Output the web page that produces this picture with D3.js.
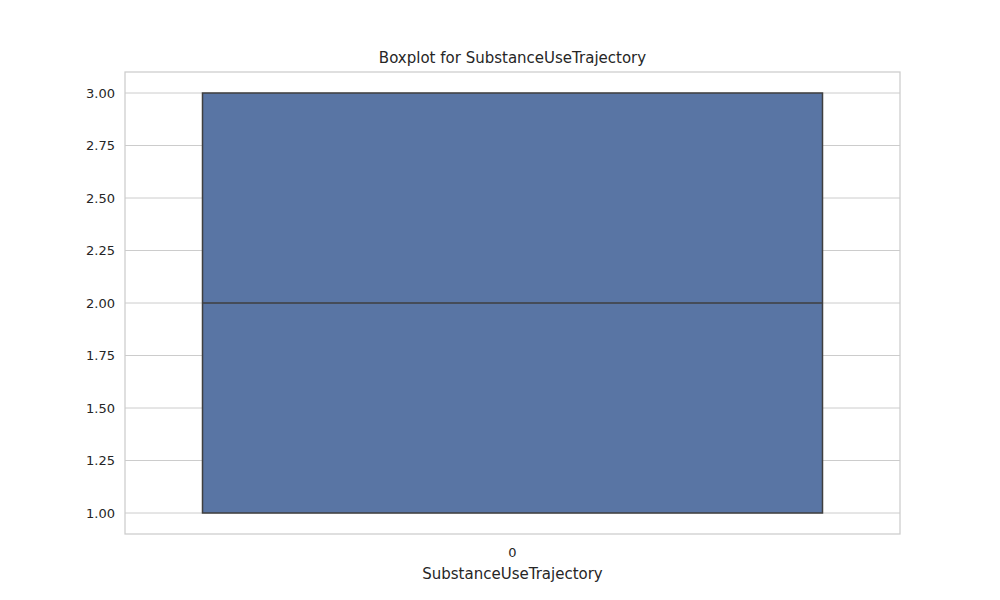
<!DOCTYPE html>
<html>
<head>
<meta charset="utf-8">
<script src="https://cdn.jsdelivr.net/npm/d3@7"></script>
<style>
  body { margin: 0; background: #fff; }
  text { font-family: "DejaVu Sans", sans-serif; fill: #262626; }
</style>
</head>
<body>
<div id="chart"></div>
<script>
// Data
const categories = ["0"];
const q1Values = [1.0];
const medianValues = [2.0];
const q3Values = [3.0];
const whiskerLow = [1.0];
const whiskerHigh = [3.0];
const yTicks = [1.0, 1.25, 1.5, 1.75, 2.0, 2.25, 2.5, 2.75, 3.0];

const margin = { top: 72, right: 100, bottom: 66, left: 125 };
const width = 1000 - margin.left - margin.right;
const height = 600 - margin.top - margin.bottom;

const svg = d3.select("#chart").append("svg")
    .attr("width", 1000).attr("height", 600);
const g = svg.append("g").attr("transform", `translate(${margin.left},${margin.top})`);

const x = d3.scaleBand().domain(categories).range([0, width]).paddingInner(0.2).paddingOuter(0.1);
const y = d3.scaleLinear().domain([0.9, 3.1]).range([height, 0]);

// Grid
g.selectAll(".grid").data(yTicks).enter().append("line")
    .attr("x1", 0).attr("x2", width)
    .attr("y1", d => y(d)).attr("y2", d => y(d))
    .attr("stroke", "#cccccc").attr("stroke-width", 1);

// Tick labels
g.selectAll(".ytick").data(yTicks).enter().append("text")
    .attr("x", -10).attr("y", d => y(d)).attr("dy", "0.35em")
    .attr("text-anchor", "end").style("font-size", "13px")
    .text(d => d.toFixed(2));

g.selectAll(".xtick").data(categories).enter().append("text")
    .attr("x", d => x(d) + x.bandwidth() / 2).attr("y", height + 23)
    .attr("text-anchor", "middle").style("font-size", "13px")
    .text(d => d);

// Boxes
const boxes = categories.map((c, i) => ({
    c, q1: q1Values[i], med: medianValues[i], q3: q3Values[i], lo: whiskerLow[i], hi: whiskerHigh[i]
}));
const bw = x.bandwidth() * 0.8 / 0.8;
boxes.forEach(b => {
    const x0 = x(b.c), cx = x0 + x.bandwidth() / 2;
    g.append("line").attr("x1", cx).attr("x2", cx).attr("y1", y(b.lo)).attr("y2", y(b.q1))
        .attr("stroke", "#3f3f3f").attr("stroke-width", 1.5);
    g.append("line").attr("x1", cx).attr("x2", cx).attr("y1", y(b.q3)).attr("y2", y(b.hi))
        .attr("stroke", "#3f3f3f").attr("stroke-width", 1.5);
    g.append("rect").attr("x", x0).attr("width", bw)
        .attr("y", y(b.q3)).attr("height", y(b.q1) - y(b.q3))
        .attr("fill", "#5975a4").attr("stroke", "#3f3f3f").attr("stroke-width", 1.5);
    g.append("line").attr("x1", x0).attr("x2", x0 + bw).attr("y1", y(b.med)).attr("y2", y(b.med))
        .attr("stroke", "#3f3f3f").attr("stroke-width", 1.5);
});

// Frame
g.append("rect").attr("width", width).attr("height", height)
    .attr("fill", "none").attr("stroke", "#cccccc").attr("stroke-width", 1.25);

// Titles
g.append("text").attr("x", width / 2).attr("y", -9).attr("text-anchor", "middle")
    .style("font-size", "15px").text("Boxplot for SubstanceUseTrajectory");
g.append("text").attr("x", width / 2).attr("y", height + 45).attr("text-anchor", "middle")
    .style("font-size", "15px").text("SubstanceUseTrajectory");
</script>
</body>
</html>
